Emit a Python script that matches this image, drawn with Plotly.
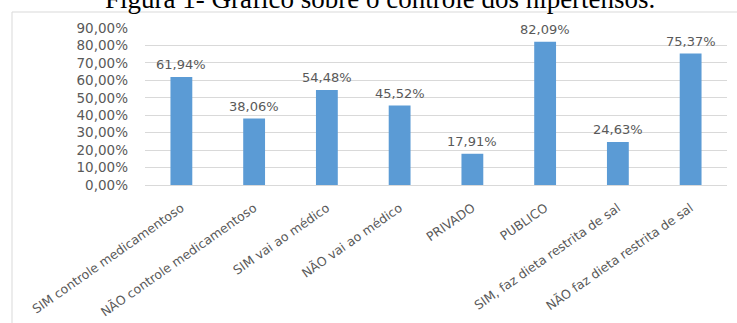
import plotly.graph_objects as go

categories = [
    "SIM controle medicamentoso",
    "NÃO controle medicamentoso",
    "SIM vai ao médico",
    "NÃO vai ao médico",
    "PRIVADO",
    "PUBLICO",
    "SIM, faz dieta restrita de sal",
    "NÃO faz dieta restrita de sal",
]
values = [0.6194, 0.3806, 0.5448, 0.4552, 0.1791, 0.8209, 0.2463, 0.7537]
value_labels = ["61,94%", "38,06%", "54,48%", "45,52%", "17,91%", "82,09%", "24,63%", "75,37%"]
y_tickvals = [0, 0.1, 0.2, 0.3, 0.4, 0.5, 0.6, 0.7, 0.8, 0.9]
y_ticktext = ["0,00%", "10,00%", "20,00%", "30,00%", "40,00%", "50,00%", "60,00%", "70,00%", "80,00%", "90,00%"]
title_text = "Figura 1- Gráfico sobre o controle dos hipertensos."

W, H = 737, 323
L, R, T, B = 145, 727, 28, 185
pw, ph = R - L, B - T


def px(X):
    return (X - L) / pw


def py(Y):
    return (B - Y) / ph


FONT = "DejaVu Sans"
GRAY = "#595959"

fig = go.Figure()
fig.add_trace(go.Bar(
    x=categories, y=values,
    marker=dict(color="#5b9bd5", line=dict(width=0)),
    width=0.3,
    hoverinfo="skip",
))

for c, v, t in zip(categories, values, value_labels):
    fig.add_annotation(x=c, y=v, text=t, showarrow=False, yanchor="bottom",
                       yshift=3, font=dict(family=FONT, size=13, color=GRAY))

fig.add_annotation(x=px(380), y=py(-1), xref="paper", yref="paper", text=title_text,
                   showarrow=False, xanchor="center", yanchor="middle",
                   font=dict(family="Liberation Serif", size=27, color="#000000"))

line_col = "#d9d9d9"
fig.add_shape(type="line", xref="paper", yref="paper", x0=px(12), x1=px(737), y0=py(12), y1=py(12),
              line=dict(color=line_col, width=1))
fig.add_shape(type="line", xref="paper", yref="paper", x0=px(12), x1=px(12), y0=py(12), y1=py(323),
              line=dict(color=line_col, width=1))

fig.update_layout(
    width=W, height=H,
    margin=dict(l=L, r=W - R, t=T, b=H - B, pad=0),
    paper_bgcolor="white", plot_bgcolor="white",
    showlegend=False,
    bargap=0.7,
    xaxis=dict(
        tickangle=-35,
        tickfont=dict(family=FONT, size=12.5, color=GRAY),
        showgrid=False, showline=True, linecolor=line_col, ticks="",
        ticklabelstandoff=10,
        automargin=False,
        fixedrange=True,
    ),
    yaxis=dict(
        range=[0, 0.9],
        tickvals=y_tickvals, ticktext=y_ticktext,
        tickfont=dict(family=FONT, size=13.5, color=GRAY),
        showgrid=True, gridcolor=line_col, gridwidth=1,
        zeroline=False, showline=False, ticks="",
        ticklabelstandoff=16,
        automargin=False,
        fixedrange=True,
    ),
)

fig.write_html("out.html")
